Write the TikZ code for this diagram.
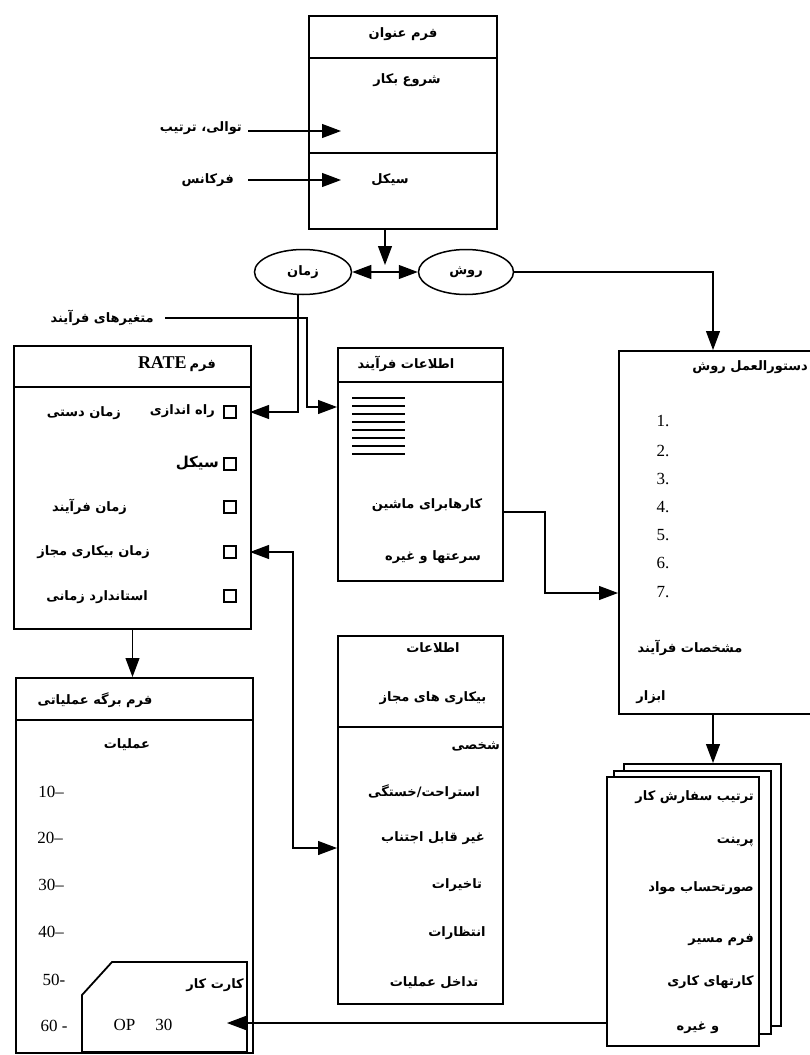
\documentclass[tikz,border=0pt]{standalone}
\usepackage{fontspec}
\setmainfont{Liberation Serif}
\newfontfamily\arfont[Script=Arabic]{DejaVu Sans}
\TeXXeTstate=1
\usetikzlibrary{arrows.meta,shapes.geometric}
\newcommand{\fa}[1]{{\arfont\bfseries\beginR #1\endR}}
\tikzset{
  box/.style={draw, line width=2pt, inner sep=0pt, anchor=north west},
  sep/.style={line width=2pt},
  conn/.style={line width=1.1pt},
  arr/.style={conn, -{Triangle[length=19pt,width=14pt]}},
  arrtwo/.style={conn, {Triangle[length=19pt,width=14pt]}-{Triangle[length=19pt,width=14pt]}},
  ell/.style={draw, ellipse, line width=1.5pt, inner sep=0pt, minimum height=45pt, font=\fontsize{13}{15}\selectfont},
  chk/.style={draw, line width=1.7pt, minimum size=12pt, inner sep=0pt},
  tx/.style={inner sep=1pt, font=\fontsize{13}{15}\selectfont},
  num/.style={inner sep=1pt, font=\fontsize{17}{19}\selectfont},
}
\begin{document}
\begin{tikzpicture}[x=1pt,y=-1pt]
\useasboundingbox (0,0) rectangle (809,1055);
\fill[white] (0,0) rectangle (809,1055);

% ---------- top box ----------
\node[box, minimum width=188pt, minimum height=213pt] (top) at (308,15) {};
\draw[sep] (308,58) -- (496,58);
\draw[sep] (308,153) -- (496,153);
\node[tx] (t1) at (403,34) {\fa{فرم عنوان}};
\node[tx] (t2) at (407,80) {\fa{شروع بکار}};
\node[tx] (t3) at (390,180) {\fa{سیکل}};
\node[tx, anchor=east] (l1) at (243,128) {\fa{توالی، ترتیب}};
\node[tx, anchor=east] (l2) at (235,180) {\fa{فرکانس}};
\coordinate (a1s) at (248,131);
\coordinate (a1) at (341,131);
\coordinate (a2s) at (248,180);
\coordinate (a2) at (341,180);
\draw[arr] (a1s) -- (a1);
\draw[arr] (a2s) -- (a2);

% ---------- ellipses ----------
\node[ell, minimum width=97pt] (zaman) at (303,272) {\fa{زمان}};
\node[ell, minimum width=95pt] (ravesh) at (466,272) {\fa{روش}};
\coordinate (jt) at (385,228);
\coordinate (jb) at (385,265);
\draw[arr] (jt) -- (jb);
\draw[arrtwo] (zaman) -- (ravesh);

% ---------- RATE box ----------
\node[box, minimum width=237pt, minimum height=283pt] (rate) at (13,345) {};
\draw[sep] (13,387) -- (250,387);
\node[tx, anchor=east] (rt) at (217,364) {\fa{فرم\hspace{3pt}\beginL{\fontspec{Liberation Serif}\bfseries\fontsize{18}{20}\selectfont RATE}\endL}};
\node[chk] (c1) at (230,412) {};
\node[chk] (c2) at (230,464) {};
\node[chk] (c3) at (230,507) {};
\node[chk] (c4) at (230,552) {};
\node[chk] (c5) at (230,596) {};
\node[tx, anchor=east] (r1a) at (216,411) {\fa{راه اندازی}};
\node[tx, anchor=east] (r1b) at (122,413) {\fa{زمان دستی}};
\node[tx, anchor=east, font=\fontsize{15}{17}\selectfont] (r2) at (220,463) {\fa{سیکل}};
\node[tx, anchor=east] (r3) at (128,507) {\fa{زمان فرآیند}};
\node[tx, anchor=east] (r4) at (151,552) {\fa{زمان بیکاری مجاز}};
\node[tx, anchor=east] (r5) at (149,597) {\fa{استاندارد زمانی}};

% ---------- process variables ----------
\node[tx, anchor=east] (motag) at (155,318) {\fa{متغیرهای فرآیند}};

% ---------- process info box ----------
\node[box, minimum width=165pt, minimum height=233pt] (etel) at (337,347) {};
\draw[sep] (337,382) -- (502,382);
\node[tx] (et) at (406,364) {\fa{اطلاعات فرآیند}};
\foreach \k in {0,...,7} { \draw[line width=2pt] (352,398+8*\k) -- (405,398+8*\k); }
\node[tx] (e1t) at (427,505) {\fa{کارهابرای ماشین}};
\node[tx] (e2t) at (433,557) {\fa{سرعتها و غیره}};

% ---------- method instruction box ----------
\node[box, minimum width=200pt, minimum height=363pt] (dast) at (618,350) {};
\node[tx, anchor=east] (dt) at (809,367) {\fa{دستورالعمل روش}};
\foreach \n/\yy in {1/421,2/451,3/479,4/507,5/535,6/563,7/592} {
  \node[num] (d\n) at (663,\yy) {\n.};
}
\node[tx] (dm) at (690,648) {\fa{مشخصات فرآیند}};
\node[tx] (da) at (651,697) {\fa{ابزار}};

% ---------- idle allowance box ----------
\node[box, minimum width=165pt, minimum height=368pt] (bik) at (337,635) {};
\draw[sep] (337,727) -- (502,727);
\node[tx] (b1) at (433,648) {\fa{اطلاعات}};
\node[tx] (b2) at (433,698) {\fa{بیکاری های مجاز}};
\node[tx, anchor=east] (b3) at (501,747) {\fa{شخصی}};
\node[tx] (b4) at (424,792) {\fa{استراحت/خستگی}};
\node[tx] (b5) at (433,838) {\fa{غیر قابل اجتناب}};
\node[tx] (b6) at (457,885) {\fa{تاخیرات}};
\node[tx] (b7) at (457,933) {\fa{انتظارات}};
\node[tx] (b8) at (434,983) {\fa{تداخل عملیات}};

% ---------- operations sheet ----------
\node[box, minimum width=237pt, minimum height=375pt] (amal) at (15,677) {};
\draw[sep] (15,720) -- (252,720);
\node[tx] (at) at (95,700) {\fa{فرم برگه عملیاتی}};
\node[tx] (ah) at (127,745) {\fa{عملیات}};
\node[num] (o1) at (51,792) {10–};
\node[num] (o2) at (50,838) {20–};
\node[num] (o3) at (51,885) {30–};
\node[num] (o4) at (51,932) {40–};
\node[num] (o5) at (54,980) {50-};
\node[num] (o6) at (54,1026) {60 -};
\draw[line width=1.8pt] (82,995) -- (112,962) -- (247,962) -- (247,1052) -- (82,1052) -- cycle;
\node[tx, anchor=east] (ck) at (245,985) {\fa{کارت کار}};
\node[num] (op) at (143,1025) {OP\hspace{20pt}30};

% ---------- stacked documents ----------
\node[box, fill=white, minimum width=157pt, minimum height=262pt] (docc) at (623,763) {};
\node[box, fill=white, minimum width=157pt, minimum height=263pt] (docb) at (613,770) {};
\node[box, fill=white, minimum width=152pt, minimum height=269pt] (doca) at (606,776) {};
\node[tx, anchor=east] (s1) at (755,797) {\fa{ترتیب سفارش کار}};
\node[tx, anchor=east] (s2) at (755,842) {\fa{پرینت}};
\node[tx, anchor=east] (s3) at (755,888) {\fa{صورتحساب مواد}};
\node[tx, anchor=east] (s4) at (755,940) {\fa{فرم مسیر}};
\node[tx, anchor=east] (s5) at (755,982) {\fa{کارتهای کاری}};
\node[tx] (s6) at (698,1028) {\fa{و غیره}};

% ---------- connectors ----------
\coordinate (dtop) at (713,350);
\draw[arr] (ravesh.east) -| (dtop);

\coordinate (rin1) at (250,412);
\draw[arr] ([xshift=-5pt]zaman.south) |- (rin1);

\coordinate (m1) at (307,360);
\coordinate (ein) at (337,407);
\draw[arr] ([xshift=10pt]motag.east) -| (m1) |- (ein);

\coordinate (eout) at (502,512);
\coordinate (m2) at (545,550);
\coordinate (din) at (618,593);
\draw[arr] (eout) -| (m2) |- (din);

\coordinate (rin4) at (250,552);
\coordinate (m3) at (293,700);
\coordinate (bin) at (337,848);
\draw[arrtwo] (rin4) -| (m3) |- (bin);

\draw[arr] (rate.south) -- (rate.south |- amal.north);

\coordinate (dbot) at (713,713);
\coordinate (docin) at (713,763);
\draw[arr] (dbot) -- (docin);

\coordinate (dout) at (606,1023);
\coordinate (cin) at (227,1023);
\draw[arr] (dout) -- (cin);
\end{tikzpicture}
\end{document}
